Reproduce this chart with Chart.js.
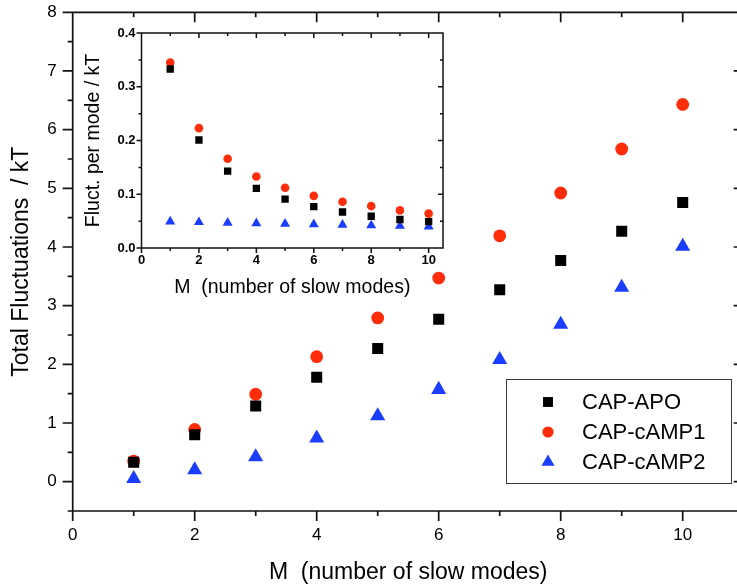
<!DOCTYPE html>
<html>
<head>
<meta charset="utf-8">
<script src="https://cdn.jsdelivr.net/npm/chart.js@4.4.1/dist/chart.umd.min.js"></script>
<style>
  html, body { margin: 0; padding: 0; background: #fff; overflow: hidden; }
  #wrap { position: relative; width: 737px; height: 588px; overflow: hidden; background: #fff; }
  #wrap canvas { position: absolute; left: 0; top: 0; }
  #inset { pointer-events: none; }
</style>
</head>
<body>
<div id="wrap">
  <canvas id="main" width="745" height="588" style="width:745px;height:588px"></canvas>
  <canvas id="inset" width="745" height="588" style="width:745px;height:588px"></canvas>
</div>
<script>
// Number of slow modes M
const modes = [1, 2, 3, 4, 5, 6, 7, 8, 9, 10];

// Total fluctuations / kT (main panel)
const totalApo   = [0.33, 0.80, 1.29, 1.78, 2.27, 2.77, 3.27, 3.77, 4.27, 4.76];
const totalCamp1 = [0.35, 0.89, 1.49, 2.13, 2.79, 3.47, 4.19, 4.92, 5.67, 6.43];
const totalCamp2 = [0.05, 0.20, 0.42, 0.74, 1.12, 1.57, 2.08, 2.68, 3.31, 4.01];

// Fluctuation per mode / kT (inset)
const perModeApo   = [0.333, 0.201, 0.143, 0.111, 0.091, 0.077, 0.067, 0.059, 0.053, 0.049];
const perModeCamp1 = [0.345, 0.223, 0.166, 0.133, 0.112, 0.097, 0.086, 0.078, 0.070, 0.064];
const perModeCamp2 = [0.049, 0.048, 0.047, 0.046, 0.045, 0.044, 0.043, 0.042, 0.041, 0.040];

const seriesNames = ['CAP-APO', 'CAP-cAMP1', 'CAP-cAMP2'];

// Tick values
const mainXMajor = [0, 2, 4, 6, 8, 10];
const mainXMinor = [1, 3, 5, 7, 9, 11];
const mainYMajor = [0, 1, 2, 3, 4, 5, 6, 7, 8];
const mainYMinor = [-0.5, 0.5, 1.5, 2.5, 3.5, 4.5, 5.5, 6.5, 7.5];
const insetXMajor = [0, 2, 4, 6, 8, 10];
const insetXMinor = [1, 3, 5, 7, 9];
const insetYMajor = [0.0, 0.1, 0.2, 0.3, 0.4];
const insetYMinor = [0.05, 0.15, 0.25, 0.35];

const FONT = "'Liberation Sans', Arial, Helvetica, sans-serif";

const markerStyles = [
  { pointStyle: 'rect',     color: '#000000', r: 7.8, rInset: 5.2, rLegend: 7.0 },
  { pointStyle: 'circle',   color: '#ff2d0a', r: 6.4, rInset: 4.3, rLegend: 5.6 },
  { pointStyle: 'triangle', color: '#1a3dff', r: 8.7, rInset: 5.8, rLegend: 7.6 }
];

const toPoints = arr => modes.map((m, i) => ({ x: m, y: arr[i] }));

function makeDatasets(seriesArrays, radiusKey) {
  return seriesArrays.map((arr, i) => ({
    label: seriesNames[i],
    data: toPoints(arr),
    showLine: false,
    pointStyle: markerStyles[i].pointStyle,
    pointRadius: markerStyles[i][radiusKey],
    pointHoverRadius: markerStyles[i][radiusKey],
    backgroundColor: markerStyles[i].color,
    borderColor: markerStyles[i].color,
    borderWidth: 0
  }));
}

// Fixed plot-area geometry: axis boxes keep exactly the given size
const fixHeight = h => s => { s.height = h; s.paddingLeft = 0; s.paddingRight = 0; };
const fixWidth  = w => s => { s.width = w; s.paddingTop = 0; s.paddingBottom = 0; };

// Box frame with ticks: outward on bottom/left, inward on top/right
const axisFrame = {
  id: 'axisFrame',
  afterDraw(chart, args, o) {
    const { ctx, chartArea: a } = chart;
    const xs = chart.scales.x, ys = chart.scales.y;
    ctx.save();
    ctx.strokeStyle = o.color;
    ctx.lineWidth = o.lineWidth;
    ctx.lineCap = 'butt';
    ctx.beginPath();
    ctx.rect(a.left, a.top, a.right - a.left, a.bottom - a.top);
    const tickX = (vals, len) => vals.forEach(v => {
      const p = xs.getPixelForValue(v);
      ctx.moveTo(p, a.bottom); ctx.lineTo(p, a.bottom + len);
      ctx.moveTo(p, a.top);    ctx.lineTo(p, a.top + len);
    });
    const tickY = (vals, len) => vals.forEach(v => {
      const p = ys.getPixelForValue(v);
      ctx.moveTo(a.left - len, p);  ctx.lineTo(a.left, p);
      ctx.moveTo(a.right - len, p); ctx.lineTo(a.right, p);
    });
    tickX(o.xMajor, o.major); tickX(o.xMinor, o.minor);
    tickY(o.yMajor, o.major); tickY(o.yMinor, o.minor);
    ctx.stroke();
    ctx.restore();
  }
};

function drawMarker(ctx, style, radius, x, y) {
  ctx.fillStyle = style.color;
  ctx.beginPath();
  if (style.pointStyle === 'rect') {
    const s = Math.SQRT1_2 * radius;
    ctx.rect(x - s, y - s, 2 * s, 2 * s);
  } else if (style.pointStyle === 'circle') {
    ctx.arc(x, y, radius, 0, Math.PI * 2);
  } else {
    ctx.moveTo(x, y - radius);
    ctx.lineTo(x + 0.866 * radius, y + 0.5 * radius);
    ctx.lineTo(x - 0.866 * radius, y + 0.5 * radius);
    ctx.closePath();
  }
  ctx.fill();
}

// Boxed legend in the lower right of the main panel
const boxLegend = {
  id: 'boxLegend',
  afterDraw(chart, args, o) {
    const ctx = chart.ctx;
    ctx.save();
    ctx.fillStyle = '#ffffff';
    ctx.fillRect(o.left, o.top, o.width, o.height);
    ctx.strokeStyle = '#3a3a3a';
    ctx.lineWidth = 1;
    ctx.strokeRect(o.left + 0.5, o.top + 0.5, o.width, o.height);
    ctx.font = o.font;
    ctx.textBaseline = 'middle';
    ctx.textAlign = 'left';
    chart.data.datasets.forEach((ds, i) => {
      const cy = o.firstY + i * o.rowGap;
      drawMarker(ctx, markerStyles[i], markerStyles[i].rLegend, o.markerX, cy);
      ctx.fillStyle = '#000000';
      ctx.fillText(ds.label, o.textX, cy + 1);
    });
    ctx.restore();
  }
};

new Chart(document.getElementById('main'), {
  type: 'scatter',
  data: { datasets: makeDatasets([totalApo, totalCamp1, totalCamp2], 'r') },
  options: {
    responsive: false,
    animation: false,
    events: [],
    layout: { autoPadding: false, padding: { left: 0, top: 12.3, right: 1.3, bottom: 0 } },
    scales: {
      x: {
        type: 'linear', min: 0, max: 11,
        afterFit: fixHeight(77),
        grid: { display: false, drawTicks: false },
        border: { display: false },
        ticks: {
          stepSize: 2, includeBounds: false, padding: 14, color: '#000',
          font: { family: FONT, size: 17 },
          callback: v => mainXMajor.includes(v) ? String(v) : ''
        },
        title: {
          display: true, text: 'M  (number of slow modes)', color: '#000',
          font: { family: FONT, size: 23 }, padding: { top: 0, bottom: 2 }
        }
      },
      y: {
        type: 'linear', min: -0.5, max: 8,
        afterFit: fixWidth(72.7),
        grid: { display: false, drawTicks: false },
        border: { display: false },
        ticks: {
          stepSize: 1, includeBounds: false, padding: 16, color: '#000',
          font: { family: FONT, size: 17 },
          callback: v => mainYMajor.includes(v) ? String(v) : ''
        },
        title: {
          display: true, text: 'Total Fluctuations  / kT', color: '#000',
          font: { family: FONT, size: 23 }, padding: { top: 8, bottom: 0 }
        }
      }
    },
    plugins: {
      legend: { display: false },
      tooltip: { enabled: false },
      axisFrame: {
        color: '#111', lineWidth: 1.7, major: 10, minor: 5,
        xMajor: mainXMajor, xMinor: mainXMinor, yMajor: mainYMajor, yMinor: mainYMinor
      },
      boxLegend: {
        left: 506, top: 379, width: 225, height: 104,
        markerX: 548, textX: 582, firstY: 402, rowGap: 30,
        font: "22px " + FONT
      }
    }
  },
  plugins: [axisFrame, boxLegend]
});

new Chart(document.getElementById('inset'), {
  type: 'scatter',
  data: { datasets: makeDatasets([perModeApo, perModeCamp1, perModeCamp2], 'rInset') },
  options: {
    responsive: false,
    animation: false,
    events: [],
    layout: { autoPadding: false, padding: { left: 71.5, top: 33, right: 302, bottom: 280 } },
    scales: {
      x: {
        type: 'linear', min: 0, max: 10.5,
        afterFit: fixHeight(60),
        grid: { display: false, drawTicks: false },
        border: { display: false },
        ticks: {
          stepSize: 2, includeBounds: false, padding: 5, color: '#000',
          font: { family: FONT, size: 13, weight: 'bold' },
          callback: v => insetXMajor.includes(v) ? String(v) : ''
        },
        title: {
          display: true, text: 'M  (number of slow modes)', color: '#000',
          font: { family: FONT, size: 19.5 }, padding: { top: 0, bottom: 9 }
        }
      },
      y: {
        type: 'linear', min: 0, max: 0.4,
        afterFit: fixWidth(70),
        grid: { display: false, drawTicks: false },
        border: { display: false },
        ticks: {
          stepSize: 0.1, includeBounds: false, padding: 6, color: '#000',
          font: { family: FONT, size: 13, weight: 'bold' },
          callback: v => v.toFixed(1)
        },
        title: {
          display: true, text: 'Fluct. per mode / kT', color: '#000',
          font: { family: FONT, size: 19.5 }, padding: { top: 10, bottom: 0 }
        }
      }
    },
    plugins: {
      legend: { display: false },
      tooltip: { enabled: false },
      axisFrame: {
        color: '#111', lineWidth: 1.5, major: 5, minor: 3,
        xMajor: insetXMajor, xMinor: insetXMinor, yMajor: insetYMajor, yMinor: insetYMinor
      }
    }
  },
  plugins: [axisFrame]
});
</script>
</body>
</html>
